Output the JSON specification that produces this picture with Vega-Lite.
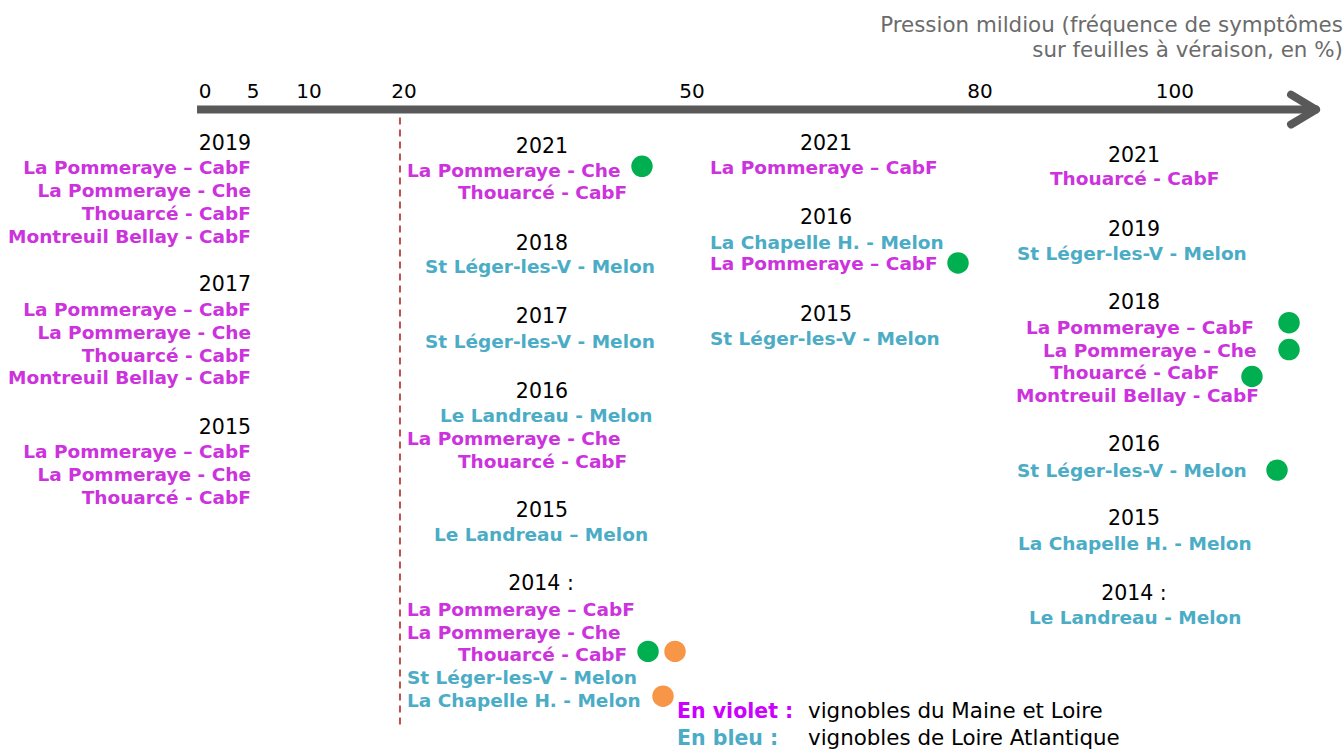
{
  "$schema": "https://vega.github.io/schema/vega-lite/v6.json",
  "width": 1344,
  "height": 749,
  "autosize": {"type": "fit", "contains": "padding"},
  "padding": 0,
  "background": "white",
  "config": {"view": {"stroke": null}, "font": "DejaVu Sans", "text": {"font": "DejaVu Sans", "dy": 1.5}},
  "datasets": {
    "entries": [
      {"col": 1, "type": "year", "label": "2019", "x": 4.06, "y": 143},
      {"col": 1, "type": "site", "label": "La Pommeraye – CabF", "region": "Maine et Loire", "x": 4.06, "y": 167},
      {"col": 1, "type": "site", "label": "La Pommeraye - Che", "region": "Maine et Loire", "x": 4.06, "y": 190},
      {"col": 1, "type": "site", "label": "Thouarcé - CabF", "region": "Maine et Loire", "x": 4.06, "y": 213},
      {"col": 1, "type": "site", "label": "Montreuil Bellay - CabF", "region": "Maine et Loire", "x": 4.06, "y": 236},
      {"col": 1, "type": "year", "label": "2017", "x": 4.06, "y": 285},
      {"col": 1, "type": "site", "label": "La Pommeraye – CabF", "region": "Maine et Loire", "x": 4.06, "y": 310},
      {"col": 1, "type": "site", "label": "La Pommeraye - Che", "region": "Maine et Loire", "x": 4.06, "y": 333},
      {"col": 1, "type": "site", "label": "Thouarcé - CabF", "region": "Maine et Loire", "x": 4.06, "y": 356},
      {"col": 1, "type": "site", "label": "Montreuil Bellay - CabF", "region": "Maine et Loire", "x": 4.06, "y": 378},
      {"col": 1, "type": "year", "label": "2015", "x": 4.06, "y": 428},
      {"col": 1, "type": "site", "label": "La Pommeraye – CabF", "region": "Maine et Loire", "x": 4.06, "y": 452},
      {"col": 1, "type": "site", "label": "La Pommeraye - Che", "region": "Maine et Loire", "x": 4.06, "y": 475},
      {"col": 1, "type": "site", "label": "Thouarcé - CabF", "region": "Maine et Loire", "x": 4.06, "y": 498},

      {"col": 2, "type": "year", "label": "2021", "x": 34.37, "y": 146},
      {"col": 2, "type": "site", "label": "La Pommeraye - Che", "region": "Maine et Loire", "x": 20.31, "y": 170},
      {"col": 2, "type": "site", "label": "Thouarcé - CabF", "region": "Maine et Loire", "x": 25.62, "y": 192},
      {"col": 2, "type": "year", "label": "2018", "x": 34.37, "y": 243},
      {"col": 2, "type": "site", "label": "St Léger-les-V - Melon", "region": "Loire Atlantique", "x": 22.19, "y": 267},
      {"col": 2, "type": "year", "label": "2017", "x": 34.37, "y": 317},
      {"col": 2, "type": "site", "label": "St Léger-les-V - Melon", "region": "Loire Atlantique", "x": 22.19, "y": 342},
      {"col": 2, "type": "year", "label": "2016", "x": 34.37, "y": 392},
      {"col": 2, "type": "site", "label": "Le Landreau - Melon", "region": "Loire Atlantique", "x": 23.75, "y": 416},
      {"col": 2, "type": "site", "label": "La Pommeraye - Che", "region": "Maine et Loire", "x": 20.31, "y": 439},
      {"col": 2, "type": "site", "label": "Thouarcé - CabF", "region": "Maine et Loire", "x": 25.62, "y": 462},
      {"col": 2, "type": "year", "label": "2015", "x": 34.37, "y": 512},
      {"col": 2, "type": "site", "label": "Le Landreau – Melon", "region": "Loire Atlantique", "x": 23.12, "y": 536},
      {"col": 2, "type": "year", "label": "2014 :", "x": 34.27, "y": 585},
      {"col": 2, "type": "site", "label": "La Pommeraye – CabF", "region": "Maine et Loire", "x": 20.31, "y": 611},
      {"col": 2, "type": "site", "label": "La Pommeraye - Che", "region": "Maine et Loire", "x": 20.31, "y": 634},
      {"col": 2, "type": "site", "label": "Thouarcé - CabF", "region": "Maine et Loire", "x": 25.62, "y": 656},
      {"col": 2, "type": "site", "label": "St Léger-les-V - Melon", "region": "Loire Atlantique", "x": 20.31, "y": 679},
      {"col": 2, "type": "site", "label": "La Chapelle H. - Melon", "region": "Loire Atlantique", "x": 20.31, "y": 702},

      {"col": 3, "type": "year", "label": "2021", "x": 63.96, "y": 143},
      {"col": 3, "type": "site", "label": "La Pommeraye – CabF", "region": "Maine et Loire", "x": 51.87, "y": 167},
      {"col": 3, "type": "year", "label": "2016", "x": 63.96, "y": 217},
      {"col": 3, "type": "site", "label": "La Chapelle H. - Melon", "region": "Loire Atlantique", "x": 51.87, "y": 242},
      {"col": 3, "type": "site", "label": "La Pommeraye – CabF", "region": "Maine et Loire", "x": 51.87, "y": 264},
      {"col": 3, "type": "year", "label": "2015", "x": 63.96, "y": 315},
      {"col": 3, "type": "site", "label": "St Léger-les-V - Melon", "region": "Loire Atlantique", "x": 51.87, "y": 339},

      {"col": 4, "type": "year", "label": "2021", "x": 96.04, "y": 155},
      {"col": 4, "type": "site", "label": "Thouarcé - CabF", "region": "Maine et Loire", "x": 87.29, "y": 178},
      {"col": 4, "type": "year", "label": "2019", "x": 96.04, "y": 229},
      {"col": 4, "type": "site", "label": "St Léger-les-V - Melon", "region": "Loire Atlantique", "x": 83.85, "y": 254},
      {"col": 4, "type": "year", "label": "2018", "x": 96.04, "y": 303},
      {"col": 4, "type": "site", "label": "La Pommeraye – CabF", "region": "Maine et Loire", "x": 84.79, "y": 328},
      {"col": 4, "type": "site", "label": "La Pommeraye - Che", "region": "Maine et Loire", "x": 86.56, "y": 351},
      {"col": 4, "type": "site", "label": "Thouarcé - CabF", "region": "Maine et Loire", "x": 87.29, "y": 373},
      {"col": 4, "type": "site", "label": "Montreuil Bellay - CabF", "region": "Maine et Loire", "x": 83.75, "y": 396},
      {"col": 4, "type": "year", "label": "2016", "x": 96.04, "y": 445},
      {"col": 4, "type": "site", "label": "St Léger-les-V - Melon", "region": "Loire Atlantique", "x": 83.85, "y": 471},
      {"col": 4, "type": "year", "label": "2015", "x": 96.04, "y": 520},
      {"col": 4, "type": "site", "label": "La Chapelle H. - Melon", "region": "Loire Atlantique", "x": 83.96, "y": 545},
      {"col": 4, "type": "year", "label": "2014 :", "x": 96.04, "y": 595},
      {"col": 4, "type": "site", "label": "Le Landreau - Melon", "region": "Loire Atlantique", "x": 85.1, "y": 619}
    ],
    "dots": [
      {"pastille": "verte", "x": 44.79, "y": 167},
      {"pastille": "verte", "x": 45.42, "y": 654},
      {"pastille": "orange", "x": 48.23, "y": 654},
      {"pastille": "orange", "x": 46.98, "y": 699},
      {"pastille": "verte", "x": 77.71, "y": 264},
      {"pastille": "verte", "x": 112.19, "y": 324},
      {"pastille": "verte", "x": 112.19, "y": 351},
      {"pastille": "verte", "x": 108.33, "y": 378},
      {"pastille": "verte", "x": 110.94, "y": 472}
    ],
    "ticks": [
      {"label": "0", "x": -0.73, "y": 91},
      {"label": "5", "x": 4.27, "y": 91},
      {"label": "10", "x": 10.1, "y": 91},
      {"label": "20", "x": 20, "y": 91},
      {"label": "50", "x": 50, "y": 91},
      {"label": "80", "x": 80, "y": 91},
      {"label": "100", "x": 100.3, "y": 91}
    ],
    "shaft": [{"x": -1.56, "x2": 114.4, "y": 110, "y2": 110}],
    "head": [
      {"x": 112.4, "x2": 115.0, "y": 95, "y2": 110},
      {"x": 112.4, "x2": 115.0, "y": 125, "y2": 110}
    ],
    "threshold": [{"x": 19.58, "y": 118, "y2": 728}],
    "title": [
      {"label": "Pression mildiou (fréquence de symptômes", "x": 117.8, "y": 25},
      {"label": "sur feuilles à véraison, en %)", "x": 117.8, "y": 50}
    ],
    "legendKey": [
      {"label": "En violet :", "region": "Maine et Loire", "x": 48.44, "y": 713},
      {"label": "En bleu :", "region": "Loire Atlantique", "x": 48.44, "y": 740}
    ],
    "legendText": [
      {"label": "vignobles du Maine et Loire", "x": 62.08, "y": 713},
      {"label": "vignobles de Loire Atlantique", "x": 62.08, "y": 740}
    ]
  },
  "resolve": {"scale": {"color": "independent"}},
  "layer": [
    {
      "data": {"name": "threshold"},
      "mark": {"type": "rule", "color": "#C0504D", "strokeWidth": 2, "strokeDash": [7, 5]},
      "encoding": {
        "x": {"field": "x", "type": "quantitative", "axis": null, "scale": {"domain": [-22.0833, 117.9167], "nice": false, "zero": false}},
        "y": {"field": "y", "type": "quantitative", "axis": null, "scale": {"domain": [0, 749], "reverse": true, "nice": false, "zero": false}},
        "y2": {"field": "y2"}
      }
    },
    {
      "data": {"name": "shaft"},
      "mark": {"type": "rule", "color": "#595959", "strokeWidth": 8, "strokeCap": "butt"},
      "encoding": {
        "x": {"field": "x", "type": "quantitative", "axis": null, "scale": {"domain": [-22.0833, 117.9167], "nice": false, "zero": false}},
        "x2": {"field": "x2"},
        "y": {"field": "y", "type": "quantitative", "axis": null, "scale": {"domain": [0, 749], "reverse": true, "nice": false, "zero": false}},
        "y2": {"field": "y2"}
      }
    },
    {
      "data": {"name": "head"},
      "mark": {"type": "rule", "color": "#595959", "strokeWidth": 8, "strokeCap": "round"},
      "encoding": {
        "x": {"field": "x", "type": "quantitative", "axis": null, "scale": {"domain": [-22.0833, 117.9167], "nice": false, "zero": false}},
        "x2": {"field": "x2"},
        "y": {"field": "y", "type": "quantitative", "axis": null, "scale": {"domain": [0, 749], "reverse": true, "nice": false, "zero": false}},
        "y2": {"field": "y2"}
      }
    },
    {
      "data": {"name": "ticks"},
      "mark": {"type": "text", "align": "center", "baseline": "middle", "fontSize": 20, "color": "#000000"},
      "encoding": {
        "x": {"field": "x", "type": "quantitative", "axis": null, "scale": {"domain": [-22.0833, 117.9167], "nice": false, "zero": false}},
        "y": {"field": "y", "type": "quantitative", "axis": null, "scale": {"domain": [0, 749], "reverse": true, "nice": false, "zero": false}},
        "text": {"field": "label"}
      }
    },
    {
      "data": {"name": "title"},
      "mark": {"type": "text", "align": "right", "baseline": "middle", "fontSize": 21.4, "color": "#6B6B6B"},
      "encoding": {
        "x": {"field": "x", "type": "quantitative", "axis": null, "scale": {"domain": [-22.0833, 117.9167], "nice": false, "zero": false}},
        "y": {"field": "y", "type": "quantitative", "axis": null, "scale": {"domain": [0, 749], "reverse": true, "nice": false, "zero": false}},
        "text": {"field": "label"}
      }
    },
    {
      "data": {"name": "entries"},
      "transform": [{"filter": "datum.col == 1 && datum.type == 'year'"}],
      "mark": {"type": "text", "align": "right", "baseline": "middle", "fontSize": 20.5, "color": "#000000"},
      "encoding": {
        "x": {"field": "x", "type": "quantitative", "axis": null, "scale": {"domain": [-22.0833, 117.9167], "nice": false, "zero": false}},
        "y": {"field": "y", "type": "quantitative", "axis": null, "scale": {"domain": [0, 749], "reverse": true, "nice": false, "zero": false}},
        "text": {"field": "label"}
      }
    },
    {
      "data": {"name": "entries"},
      "transform": [{"filter": "datum.col == 1 && datum.type == 'site'"}],
      "mark": {"type": "text", "align": "right", "baseline": "middle", "fontSize": 18.5, "fontWeight": "bold"},
      "encoding": {
        "x": {"field": "x", "type": "quantitative", "axis": null, "scale": {"domain": [-22.0833, 117.9167], "nice": false, "zero": false}},
        "y": {"field": "y", "type": "quantitative", "axis": null, "scale": {"domain": [0, 749], "reverse": true, "nice": false, "zero": false}},
        "text": {"field": "label"},
        "color": {"field": "region", "type": "nominal", "legend": null, "scale": {"domain": ["Maine et Loire", "Loire Atlantique"], "range": ["#CC33DD", "#4BACC6"]}}
      }
    },
    {
      "data": {"name": "entries"},
      "transform": [{"filter": "datum.col != 1 && datum.type == 'year'"}],
      "mark": {"type": "text", "align": "center", "baseline": "middle", "fontSize": 20.5, "color": "#000000"},
      "encoding": {
        "x": {"field": "x", "type": "quantitative", "axis": null, "scale": {"domain": [-22.0833, 117.9167], "nice": false, "zero": false}},
        "y": {"field": "y", "type": "quantitative", "axis": null, "scale": {"domain": [0, 749], "reverse": true, "nice": false, "zero": false}},
        "text": {"field": "label"}
      }
    },
    {
      "data": {"name": "entries"},
      "transform": [{"filter": "datum.col != 1 && datum.type == 'site'"}],
      "mark": {"type": "text", "align": "left", "baseline": "middle", "fontSize": 18.5, "fontWeight": "bold"},
      "encoding": {
        "x": {"field": "x", "type": "quantitative", "axis": null, "scale": {"domain": [-22.0833, 117.9167], "nice": false, "zero": false}},
        "y": {"field": "y", "type": "quantitative", "axis": null, "scale": {"domain": [0, 749], "reverse": true, "nice": false, "zero": false}},
        "text": {"field": "label"},
        "color": {"field": "region", "type": "nominal", "legend": null, "scale": {"domain": ["Maine et Loire", "Loire Atlantique"], "range": ["#CC33DD", "#4BACC6"]}}
      }
    },
    {
      "data": {"name": "dots"},
      "mark": {"type": "circle", "size": 460, "opacity": 1},
      "encoding": {
        "x": {"field": "x", "type": "quantitative", "axis": null, "scale": {"domain": [-22.0833, 117.9167], "nice": false, "zero": false}},
        "y": {"field": "y", "type": "quantitative", "axis": null, "scale": {"domain": [0, 749], "reverse": true, "nice": false, "zero": false}},
        "color": {"field": "pastille", "type": "nominal", "legend": null, "scale": {"domain": ["verte", "orange"], "range": ["#00B050", "#F79646"]}}
      }
    },
    {
      "data": {"name": "legendKey"},
      "mark": {"type": "text", "align": "left", "baseline": "middle", "fontSize": 20.5, "fontWeight": "bold"},
      "encoding": {
        "x": {"field": "x", "type": "quantitative", "axis": null, "scale": {"domain": [-22.0833, 117.9167], "nice": false, "zero": false}},
        "y": {"field": "y", "type": "quantitative", "axis": null, "scale": {"domain": [0, 749], "reverse": true, "nice": false, "zero": false}},
        "text": {"field": "label"},
        "color": {"field": "region", "type": "nominal", "legend": null, "scale": {"domain": ["Maine et Loire", "Loire Atlantique"], "range": ["#CC00FF", "#4BACC6"]}}
      }
    },
    {
      "data": {"name": "legendText"},
      "mark": {"type": "text", "align": "left", "baseline": "middle", "fontSize": 21.4, "color": "#000000"},
      "encoding": {
        "x": {"field": "x", "type": "quantitative", "axis": null, "scale": {"domain": [-22.0833, 117.9167], "nice": false, "zero": false}},
        "y": {"field": "y", "type": "quantitative", "axis": null, "scale": {"domain": [0, 749], "reverse": true, "nice": false, "zero": false}},
        "text": {"field": "label"}
      }
    }
  ]
}
